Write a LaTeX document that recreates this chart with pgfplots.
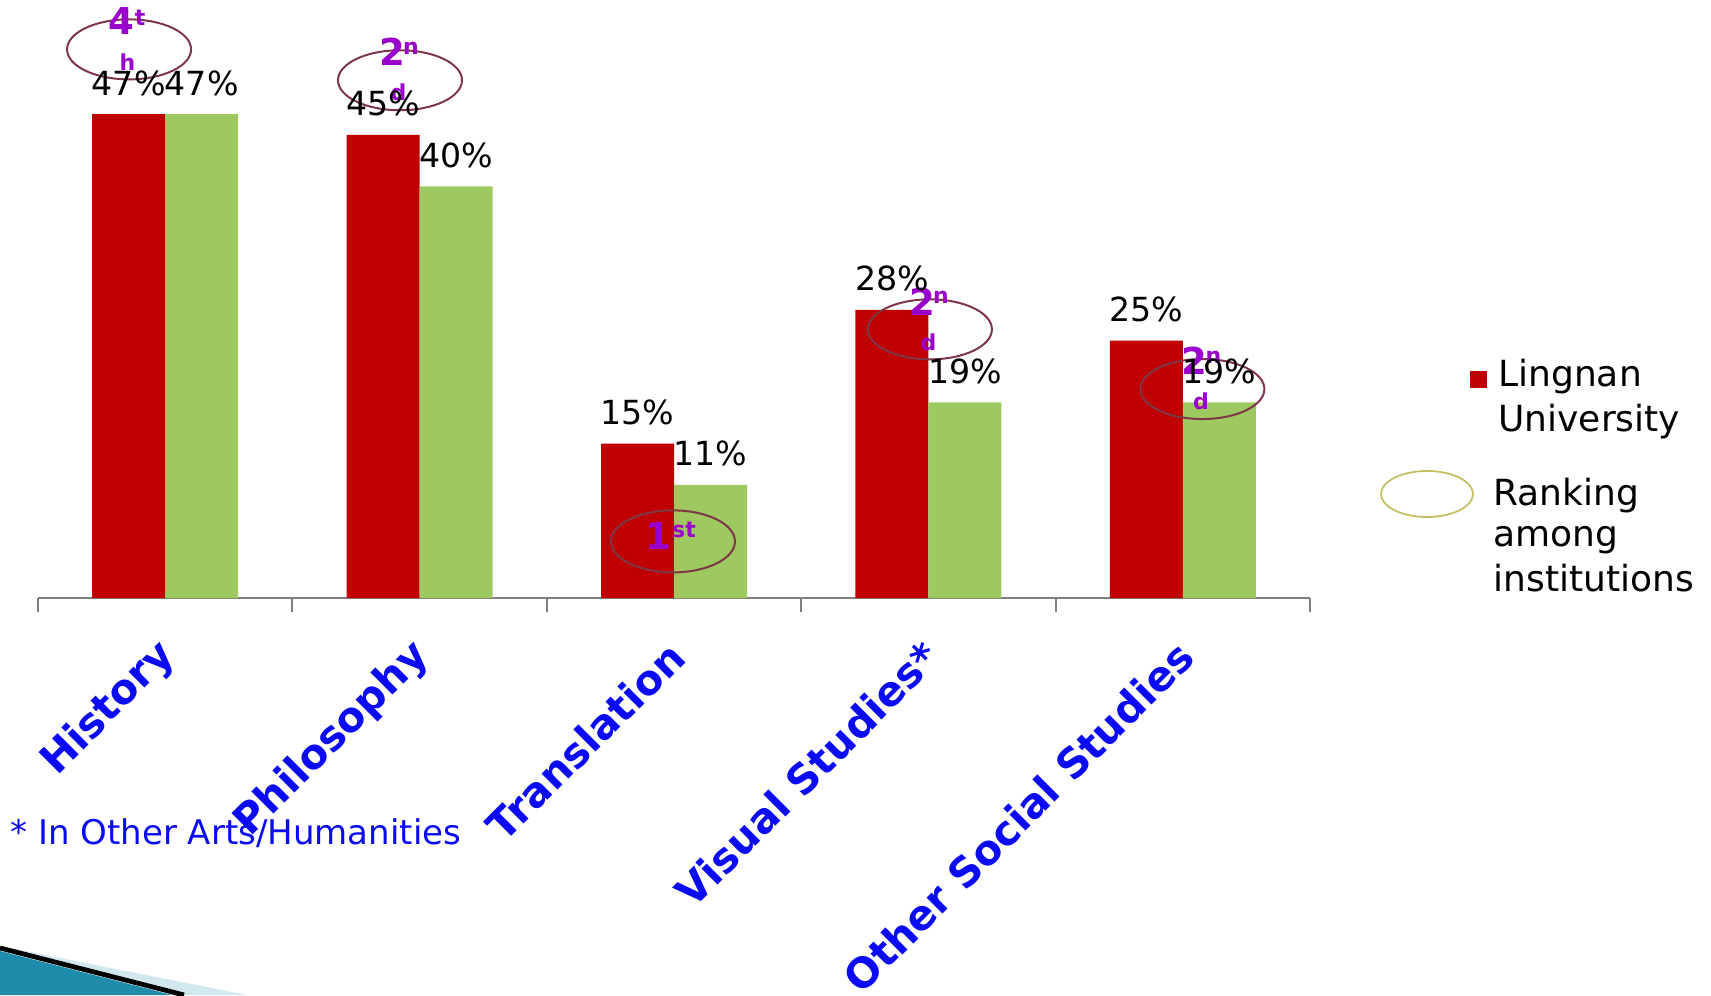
\documentclass[border=0pt]{standalone}
\usepackage{pgfplots}
\pgfplotsset{compat=1.18}
\usepackage{fontspec}
\setmainfont{DejaVu Sans}
\definecolor{barred}{RGB}{192,0,0}
\definecolor{bargreen}{RGB}{158,200,96}
\definecolor{rankpurple}{RGB}{153,0,204}
\definecolor{ellred}{RGB}{125,55,70}
\definecolor{ellolive}{RGB}{196,190,100}
\definecolor{labblue}{RGB}{10,10,245}
\definecolor{swteal}{RGB}{30,140,170}
\definecolor{swlight}{RGB}{210,232,240}
\newcommand{\rankfont}{\fontsize{18.5}{20}\selectfont\bfseries}
\newcommand{\supfont}{\fontsize{11}{12}\selectfont\bfseries}
% #1 x, #2 y, #3 digit, #4 sup, #5 second line
\newcommand{\rankmark}[5]{%
  \draw[ellred, line width=1pt] (axis cs:#1,#2) ellipse [x radius=31pt, y radius=15pt];
  \node[text=rankpurple, font=\rankfont, inner sep=0pt] at ([shift={(-4pt,14pt)}]axis cs:#1,#2) {#3};
  \node[text=rankpurple, font=\supfont, inner sep=0pt] at ([shift={(5.5pt,16pt)}]axis cs:#1,#2) {#4};
  \node[text=rankpurple, font=\supfont, inner sep=0pt] at ([shift={(-0.75pt,-6.25pt)}]axis cs:#1,#2) {#5};
}
\begin{document}
\begin{tikzpicture}
\path[use as bounding box] (0,0) rectangle (855.5pt,497.5pt);
% decoration swoosh
\fill[swteal] (0,0) -- (0,22pt) -- (86pt,0) -- cycle;
\fill[swlight] (0,24.5pt) -- (123.5pt,0) -- (93pt,0) -- cycle;
\draw[black, line width=2.4pt] (0,23.5pt) -- (92pt,0);
\begin{axis}[
  at={(19pt,198.5pt)}, anchor=south west,
  scale only axis, width=636pt, height=298.5pt,
  xmin=-0.5, xmax=4.5, ymin=0, ymax=58,
  clip=false,
  /pgf/number format/assume math mode=true,
  axis x line=bottom, hide y axis,
  x axis line style={-, draw=gray, line width=1pt},
  ybar=0pt, bar width=36.5pt,
  xtick={0,1,2,3,4},
  xticklabels={History,Philosophy,Translation,Visual Studies*,Other Social Studies},
  major x tick style={draw=none},
  minor xtick={-0.5,0.5,1.5,2.5,3.5,4.5},
  minor x tick style={draw=gray, line width=1pt},
  minor tick length=7pt, tick align=outside,
  xticklabel style={xshift=4pt, yshift=-19pt, rotate=45, anchor=east, font=\fontsize{20.6}{25}\selectfont\bfseries, text=labblue},
  nodes near coords={\pgfmathprintnumber{\pgfplotspointmeta}\%},
  every node near coord/.append style={font=\fontsize{16.6}{19}\selectfont, text=black, anchor=south, inner sep=0pt, yshift=9pt},
]
\addplot[fill=barred, draw=none] coordinates {(0,47) (1,45) (2,15) (3,28) (4,25)};
\addplot[fill=bargreen, draw=none] coordinates {(0,47) (1,40) (2,11) (3,19) (4,19)};
\rankmark{-0.142}{53.3}{4}{t}{h}
\rankmark{0.923}{50.3}{2}{n}{d}
\rankmark{3.006}{26.1}{2}{n}{d}
\rankmark{4.077}{20.3}{2}{n}{d}
\draw[ellred, line width=1pt] (axis cs:1.996,5.5) ellipse [x radius=31pt, y radius=15.5pt];
\node[text=rankpurple, font=\rankfont, inner sep=0pt] at ([shift={(-7.5pt,2.75pt)}]axis cs:1.996,5.5) {1};
\node[text=rankpurple, font=\supfont, inner sep=0pt] at ([shift={(5.5pt,5.5pt)}]axis cs:1.996,5.5) {st};
\end{axis}
% legend
\fill[barred] (735pt,303.5pt) rectangle (743.5pt,312pt);
\node[anchor=west, inner sep=0pt, font=\fontsize{18}{21}\selectfont] at (749pt,309pt) {Lingnan};
\node[anchor=west, inner sep=0pt, font=\fontsize{18}{21}\selectfont] at (749pt,286.5pt) {University};
\draw[ellolive, line width=0.9pt] (713.5pt,250.5pt) ellipse [x radius=23pt, y radius=11.5pt];
\node[anchor=west, inner sep=0pt, font=\fontsize{18}{21}\selectfont] at (746.5pt,249.5pt) {Ranking};
\node[anchor=west, inner sep=0pt, font=\fontsize{18}{21}\selectfont] at (746.5pt,227.5pt) {among};
\node[anchor=west, inner sep=0pt, font=\fontsize{18}{21}\selectfont] at (746.5pt,208.5pt) {institutions};
% footnote
\node[anchor=base west, inner sep=0pt, text=labblue, font=\fontsize{17}{19}\selectfont] at (5pt,75pt) {* In Other Arts/Humanities};
\end{tikzpicture}
\end{document}
